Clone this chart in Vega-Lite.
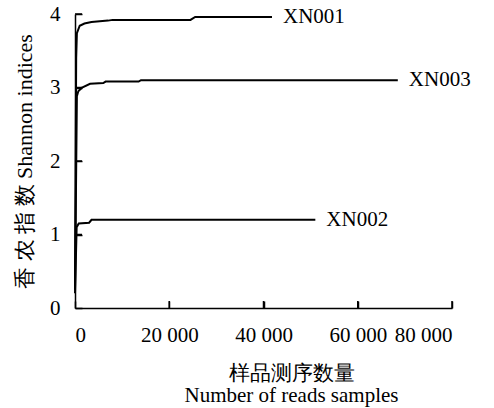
{
  "$schema": "https://vega.github.io/schema/vega-lite/v6.json",
  "autosize": "none",
  "width": 377,
  "height": 294,
  "padding": {"left": 75, "top": 14, "right": 42, "bottom": 100},
  "background": "white",
  "config": {
    "font": "Liberation Serif",
    "view": {"stroke": null},
    "axis": {"grid": false, "domainColor": "black", "domainWidth": 1.5, "tickColor": "black", "tickWidth": 1.5,
             "labelColor": "black", "titleColor": "black", "titleFontWeight": "normal",
             "labelFont": "Liberation Serif", "titleFont": "Liberation Serif"}
  },
  "data": {"values": [
    {"series": "XN001", "x": 0, "y": 0.25},
    {"series": "XN001", "x": 250, "y": 3.4},
    {"series": "XN001", "x": 400, "y": 3.74},
    {"series": "XN001", "x": 1000, "y": 3.84},
    {"series": "XN001", "x": 2000, "y": 3.87},
    {"series": "XN001", "x": 3500, "y": 3.89},
    {"series": "XN001", "x": 7000, "y": 3.91},
    {"series": "XN001", "x": 8000, "y": 3.92},
    {"series": "XN001", "x": 24500, "y": 3.92},
    {"series": "XN001", "x": 25500, "y": 3.96},
    {"series": "XN001", "x": 41800, "y": 3.96},
    {"series": "XN003", "x": 0, "y": 0.25},
    {"series": "XN003", "x": 400, "y": 2.88},
    {"series": "XN003", "x": 700, "y": 2.95},
    {"series": "XN003", "x": 1500, "y": 3.0},
    {"series": "XN003", "x": 3200, "y": 3.05},
    {"series": "XN003", "x": 6000, "y": 3.06},
    {"series": "XN003", "x": 6500, "y": 3.08},
    {"series": "XN003", "x": 13500, "y": 3.08},
    {"series": "XN003", "x": 14000, "y": 3.1},
    {"series": "XN003", "x": 68500, "y": 3.1},
    {"series": "XN002", "x": 0, "y": 0.2},
    {"series": "XN002", "x": 350, "y": 1.1},
    {"series": "XN002", "x": 800, "y": 1.15},
    {"series": "XN002", "x": 3000, "y": 1.16},
    {"series": "XN002", "x": 3500, "y": 1.2},
    {"series": "XN002", "x": 51000, "y": 1.2}
  ]},
  "layer": [
    {
      "mark": {"type": "line", "color": "black", "strokeWidth": 2, "interpolate": "linear"},
      "encoding": {
        "x": {"field": "x", "type": "quantitative", "scale": {"domain": [0, 80000], "nice": false},
              "axis": {"values": [0, 20000, 40000, 60000, 80000], "tickSize": -7, "labelPadding": 23,
                       "labelFont": "Liberation Serif", "labelFontSize": 21,
                       "labelExpr": "datum.value == 0 ? '0' : format(datum.value/1000, 'd') + ' 000'",
                       "title": ["样品测序数量", "Number of  reads samples"],
                       "titleFont": "Liberation Serif", "titleFontSize": 21,
                       "titleX": 216, "titleY": 71, "titleBaseline": "alphabetic", "titleLineHeight": 22, "titleAlign": "center"}},
        "y": {"field": "y", "type": "quantitative", "scale": {"domain": [0, 4], "nice": false},
              "axis": {"values": [0, 1, 2, 3, 4], "tickSize": -7, "labelPadding": 22, "format": "d",
                       "labelFont": "Liberation Serif", "labelFontSize": 21,
                       "title": "香 农 指 数  Shannon indices", "titleFont": "Liberation Serif", "titleFontSize": 22,
                       "titleX": -51, "titleY": 147, "titleBaseline": "middle", "titleAlign": "center", "titleAngle": 270}},
        "detail": {"field": "series"}
      }
    },
    {
      "data": {"values": [{"tx": 20000}, {"tx": 40000}, {"tx": 60000}, {"tx": 80000}]},
      "mark": {"type": "tick", "orient": "vertical", "size": 7, "thickness": 1.5, "yOffset": -3.5, "color": "black", "opacity": 1},
      "encoding": {
        "x": {"field": "tx", "type": "quantitative"},
        "y": {"datum": 0, "type": "quantitative"}
      }
    },
    {
      "data": {"values": [{"ty": 1}, {"ty": 2}, {"ty": 3}, {"ty": 4}]},
      "mark": {"type": "tick", "orient": "horizontal", "size": 7, "thickness": 1.5, "xOffset": 3.5, "color": "black", "opacity": 1},
      "encoding": {
        "y": {"field": "ty", "type": "quantitative"},
        "x": {"datum": 0, "type": "quantitative"}
      }
    },
    {
      "transform": [
        {"joinaggregate": [{"op": "max", "field": "x", "as": "xmax"}], "groupby": ["series"]},
        {"filter": "datum.x == datum.xmax"}
      ],
      "mark": {"type": "text", "align": "left", "baseline": "middle", "dx": 11, "font": "Liberation Serif", "fontSize": 21, "color": "black"},
      "encoding": {
        "x": {"field": "x", "type": "quantitative"},
        "y": {"field": "y", "type": "quantitative"},
        "text": {"field": "series"}
      }
    }
  ]
}
